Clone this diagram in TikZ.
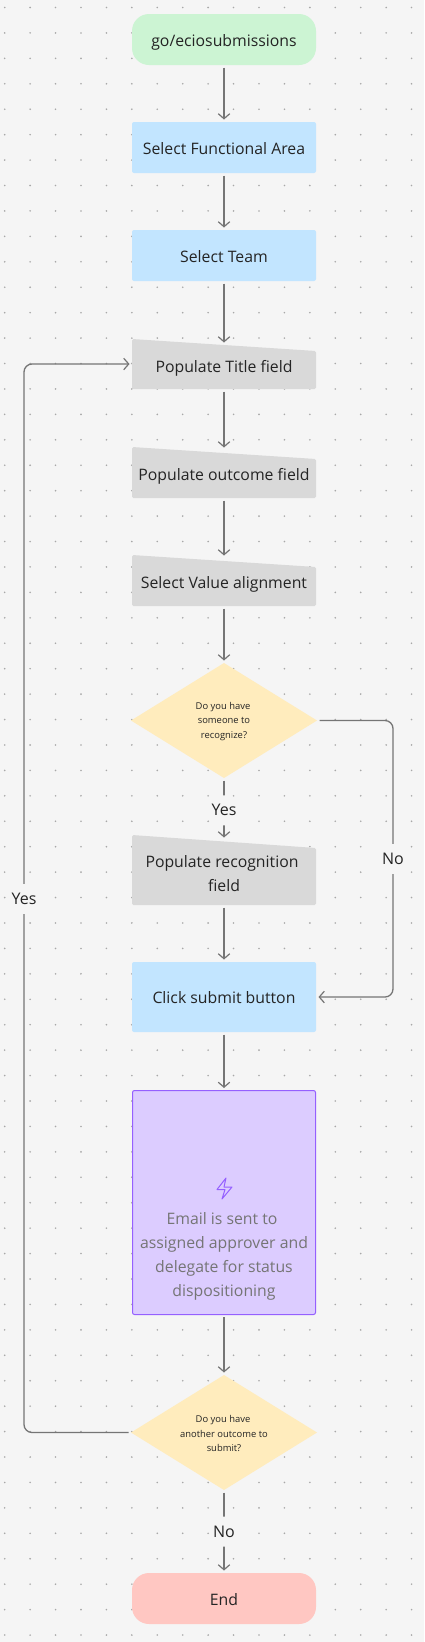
\documentclass[tikz,border=0pt]{standalone}
\usepackage{fontspec}
\setmainfont{Open Sans}
\usetikzlibrary{arrows.meta,shapes.geometric}
\definecolor{bgc}{HTML}{F5F5F5}
\definecolor{dotc}{HTML}{A8A8A8}
\definecolor{linec}{HTML}{757575}
\definecolor{txt}{HTML}{242424}
\definecolor{gr}{HTML}{CCF4D3}
\definecolor{bl}{HTML}{C2E5FF}
\definecolor{gy}{HTML}{D9D9D9}
\definecolor{ye}{HTML}{FFECBD}
\definecolor{re}{HTML}{FFC7C2}
\definecolor{pu}{HTML}{DCCCFF}
\definecolor{pust}{HTML}{9560FF}
\tikzset{
  x=1pt,y=-1pt,
  base/.style={inner sep=0pt,outer sep=0pt,text=txt,font=\fontsize{15.8}{24}\selectfont,align=center,minimum width=184pt},
  single/.style={text height=13pt,text depth=0pt},
  term/.style={base,single,minimum height=51pt,rounded corners=17pt},
  proc/.style={base,single,fill=bl,rounded corners=2pt},
  inp/.style={base},
  dec/.style={base,diamond,fill=ye,minimum width=186pt,minimum height=115pt,aspect=1.6},
  dectext/.style={base,font=\fontsize{9.4}{14.3}\selectfont},
  conn/.style={draw=linec,line width=1.3pt,-{Straight Barb[length=5pt,width=11.5pt,line width=1.2pt]},shorten <=2.5pt,shorten >=2.5pt,rounded corners=8pt},
  lab/.style={fill=bgc,inner sep=0pt,minimum height=30pt,text=txt,font=\fontsize{16}{18}\selectfont},
}
\newcommand{\manualshape}[3]{\fill[gy,rounded corners=1.5pt] (132,#1) -- (316,#2) -- (316,#3) -- (132,#3) -- cycle;}
\begin{document}
\begin{tikzpicture}
\useasboundingbox (0,0) rectangle (424,1642);
\fill[bgc] (0,0) rectangle (424,1642);
\foreach \i in {0,...,16}{\foreach \j in {0,...,64}{
  \fill[dotc] ({4.7+25.43*\i},{7.5+25.43*\j}) circle (0.9pt);
}}
\node[term,fill=gr] (start) at (224,39.5) {go/eciosubmissions};
\node[proc,minimum height=51pt] (area) at (224,147.5) {Select Functional Area};
\node[proc,minimum height=51pt] (team) at (224,255.5) {Select Team};
\manualshape{339}{351}{389}
\node[inp,minimum height=44pt] (title) at (224,367) {};
\node[base,single] (titletext) at (224,365.5) {Populate Title field};
\manualshape{447}{459}{498}
\node[inp,single,minimum height=48pt] (outcome) at (224,474) {Populate outcome field};
\manualshape{555}{567}{606}
\node[inp,single,minimum height=48pt] (value) at (224,582) {Select Value alignment};
\node[dec] (q1) at (224,720.5) {};
\node[dectext] (q1text) at (224,721.5) {Do you have\hspace*{2pt}\\someone to\hspace*{2pt}\\recognize?};
\manualshape{835}{848}{905}
\node[inp,minimum height=65pt] (recog) at (224,872.5) {};
\node[base] (recogtext) at (224,874) {Populate recognition\hspace*{4pt}\\field};
\node[proc,minimum height=70pt] (click) at (224,997) {Click submit button};
\node[base,fill=pu,draw=pust,line width=1pt,rounded corners=2pt,minimum width=183pt,minimum height=224pt] (mail) at (224,1202.5) {};
\node[base,text=linec] (mailtext) at (224,1256) {Email is sent to\hspace*{4pt}\\assigned approver and\hspace*{4pt}\\delegate for status\hspace*{4pt}\\dispositioning};
\draw[pust,line width=1pt,line join=round] (226,1178) -- (217,1189.5) -- (225,1189.5) -- (222,1199) -- (232,1187) -- (224,1187) -- cycle;
\node[dec] (q2) at (224,1432.5) {};
\node[dectext] (q2text) at (224,1433.5) {Do you have\hspace*{2pt}\\another outcome to\hspace*{2pt}\\submit?};
\node[term,fill=re] (end) at (224,1598.5) {End};
\draw[conn] (start) -- (area);
\draw[conn] (area) -- (team);
\draw[conn] (team) -- (title);
\draw[conn] (title) -- (outcome);
\draw[conn] (outcome) -- (value);
\draw[conn] (value) -- (q1);
\draw[conn] (q1) -- node[lab,pos=0.52] (ly) {Yes} (recog);
\draw[conn] (recog) -- (click);
\draw[conn] (click) -- (mail);
\draw[conn] (mail) -- (q2);
\draw[conn] (q2) -- node[lab,pos=0.5] (ln) {No} (end);
\coordinate (r1) at (393,720.5);
\coordinate (r2) at (393,997);
\draw[conn] (q1.east) -- (r1) -- (r2) -- (click.east);
\node[lab] (lno) at (393,859) {No};
\coordinate (l1) at (24,1432.5);
\coordinate (l2) at (24,364);
\coordinate (t1) at (132,364);
\draw[conn] (q2.west) -- (l1) -- (l2) -- (t1);
\node[lab] (lyes) at (24,899) {Yes};
\end{tikzpicture}
\end{document}
